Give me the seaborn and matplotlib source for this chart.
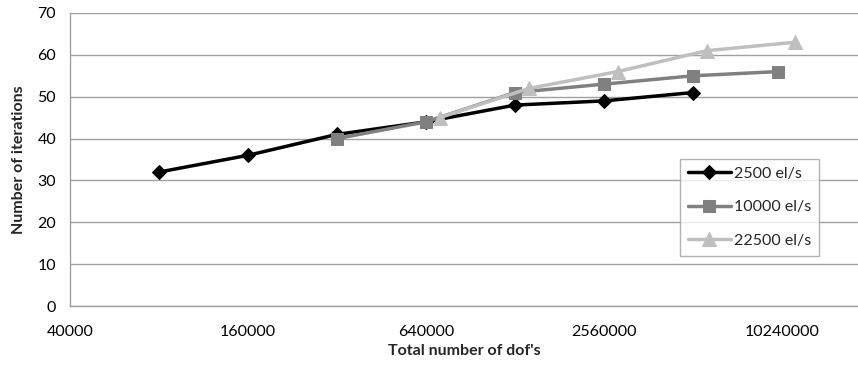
import numpy as np
import pandas as pd
import matplotlib
matplotlib.use("Agg")
import matplotlib.pyplot as plt
import seaborn as sns
from matplotlib.ticker import FixedLocator, FuncFormatter, NullLocator

# Data
series_names = ["2500 el/s", "10000 el/s", "22500 el/s"]
dofs_2500 = [80000, 160000, 320000, 640000, 1280000, 2560000, 5120000]
iters_2500 = [32, 36, 41, 44, 48, 49, 51]
dofs_10000 = [320000, 640000, 1280000, 2560000, 5120000, 9900000]
iters_10000 = [40, 44, 51, 53, 55, 56]
dofs_22500 = [712000, 1430000, 2850000, 5700000, 11300000]
iters_22500 = [45, 52, 56, 61, 63]
x_ticks = [40000, 160000, 640000, 2560000, 10240000]
y_ticks = [0, 10, 20, 30, 40, 50, 60, 70]

df = pd.concat([
    pd.DataFrame({"dofs": dofs_2500, "iters": iters_2500, "series": series_names[0]}),
    pd.DataFrame({"dofs": dofs_10000, "iters": iters_10000, "series": series_names[1]}),
    pd.DataFrame({"dofs": dofs_22500, "iters": iters_22500, "series": series_names[2]}),
], ignore_index=True)

sns.set_style("white")
plt.rcParams["font.family"] = ["Lato", "DejaVu Sans"]

fig = plt.figure(figsize=(8.58, 3.71), dpi=100)
ax = fig.add_axes([70/858, 1-306/371, 1-70/858, (306-13)/371])

palette = {series_names[0]: "#000000", series_names[1]: "#808080", series_names[2]: "#BFBFBF"}
markers = {series_names[0]: "D", series_names[1]: "s", series_names[2]: "^"}
msizes = {series_names[0]: 7, series_names[1]: 9, series_names[2]: 10}

for name in series_names:
    sub = df[df["series"] == name]
    sns.lineplot(data=sub, x="dofs", y="iters", ax=ax, color=palette[name],
                 marker=markers[name], markersize=msizes[name], markeredgecolor=palette[name],
                 linewidth=2.5, label=name, sort=False, estimator=None)

ax.set_xscale("log", base=2)
xmax = 40000 * 2 ** ((858 - 70) / 89.0)
ax.set_xlim(40000, xmax)
ax.set_ylim(0, 70)
ax.xaxis.set_major_locator(FixedLocator(x_ticks))
ax.xaxis.set_minor_locator(NullLocator())
ax.xaxis.set_major_formatter(FuncFormatter(lambda v, p: f"{int(round(v))}"))
ax.set_yticks(y_ticks)

ax.grid(axis="y", color="#A0A0A0", linewidth=1.0)
ax.grid(axis="x", visible=False)
ax.set_axisbelow(True)
for s in ["top", "right"]:
    ax.spines[s].set_visible(False)
for s in ["left", "bottom"]:
    ax.spines[s].set_color("#A0A0A0")
    ax.spines[s].set_linewidth(1.0)
ax.tick_params(axis="both", which="major", direction="out", length=5, width=1,
               color="#A0A0A0", labelsize=11.5, labelcolor="black")
ax.tick_params(axis="x", pad=9)
ax.tick_params(axis="y", pad=5)

ax.set_xlabel("Total number of dof's", fontsize=11.5, fontweight="bold", labelpad=3)
ax.set_ylabel("Number of iterations", fontsize=11.5, fontweight="bold", labelpad=8)

leg = ax.legend(loc="center", bbox_to_anchor=(0.775, 0.160, 0.175, 0.355),
                frameon=True, fancybox=False, edgecolor="#A0A0A0", fontsize=11.5,
                handlelength=2.7, handletextpad=0.2, labelspacing=1.2, borderpad=0.5)
leg.get_frame().set_linewidth(1.0)

fig.savefig("out.png", dpi=100)
